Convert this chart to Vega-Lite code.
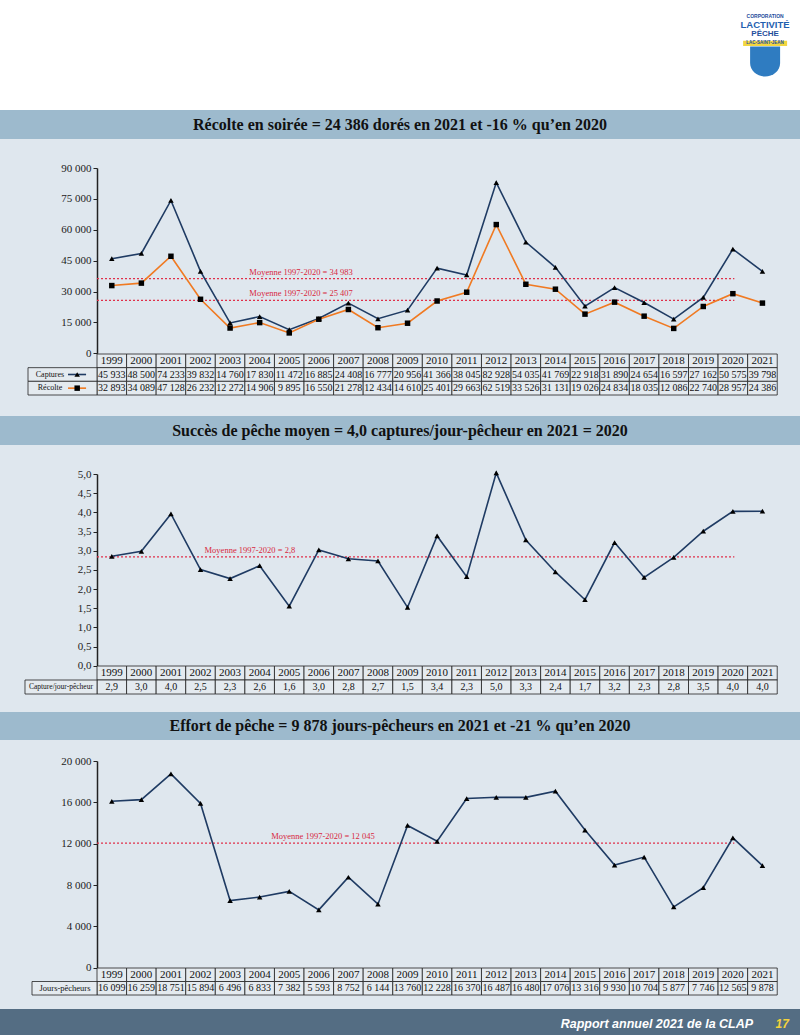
{
"$schema":"https://vega.github.io/schema/vega-lite/v6.json",
"padding":0,
"background":"#dfe7ee",
"spacing":0,
"bounds":"flush",
"datasets":{"d":[
{"year":1999,"captures":45933,"recolte":32893,"cpue":2.853,"effort":16099},
{"year":2000,"captures":48500,"recolte":34089,"cpue":2.983,"effort":16259},
{"year":2001,"captures":74233,"recolte":47128,"cpue":3.959,"effort":18751},
{"year":2002,"captures":39832,"recolte":26232,"cpue":2.506,"effort":15894},
{"year":2003,"captures":14760,"recolte":12272,"cpue":2.272,"effort":6496},
{"year":2004,"captures":17830,"recolte":14906,"cpue":2.609,"effort":6833},
{"year":2005,"captures":11472,"recolte":9895,"cpue":1.554,"effort":7382},
{"year":2006,"captures":16885,"recolte":16550,"cpue":3.019,"effort":5593},
{"year":2007,"captures":24408,"recolte":21278,"cpue":2.789,"effort":8752},
{"year":2008,"captures":16777,"recolte":12434,"cpue":2.731,"effort":6144},
{"year":2009,"captures":20956,"recolte":14610,"cpue":1.523,"effort":13760},
{"year":2010,"captures":41366,"recolte":25401,"cpue":3.383,"effort":12228},
{"year":2011,"captures":38045,"recolte":29663,"cpue":2.324,"effort":16370},
{"year":2012,"captures":82928,"recolte":62519,"cpue":5.030,"effort":16487},
{"year":2013,"captures":54035,"recolte":33526,"cpue":3.279,"effort":16480},
{"year":2014,"captures":41769,"recolte":31131,"cpue":2.446,"effort":17076},
{"year":2015,"captures":22918,"recolte":19026,"cpue":1.721,"effort":13316},
{"year":2016,"captures":31890,"recolte":24834,"cpue":3.212,"effort":9930},
{"year":2017,"captures":24654,"recolte":18035,"cpue":2.303,"effort":10704},
{"year":2018,"captures":16597,"recolte":12086,"cpue":2.824,"effort":5877},
{"year":2019,"captures":27162,"recolte":22740,"cpue":3.507,"effort":7746},
{"year":2020,"captures":50575,"recolte":28957,"cpue":4.025,"effort":12565},
{"year":2021,"captures":39798,"recolte":24386,"cpue":4.029,"effort":9878}
]},
"config":{
 "view":{"stroke":null},
 "concat":{"spacing":0},
 "locale":{"number":{"decimal":",","thousands":" ","grouping":[3],"currency":["","$"]}},
 "axis":{"grid":false,"labelFont":"Liberation Serif","labelFontSize":11,"labelColor":"#222","tickColor":"#222","tickSize":4,"labelPadding":2,"domainColor":"#222","domainWidth":1.5,"labelOverlap":false}
},
"vconcat":[
 {"width":800,"height":110,"view":{"fill":"#ffffff","stroke":null},"data":{"values":[{}]},
  "layer":[
   {"mark":{"type":"text","text":"CORPORATION","font":"Liberation Sans","fontWeight":"bold","fontSize":5,"color":"#1f4e9c"},
    "encoding":{"x":{"datum":2021.09,"type":"quantitative","scale":{"domain":[1995.22,2022.27],"nice":false,"zero":false},"axis":null},
     "y":{"datum":"CORPORATION","type":"nominal","scale":{"type":"point","domain":["CORPORATION","LACTIVITÉ","PÊCHE","LAC-SAINT-JEAN","a","emblème","b","c","d","e","f"],"padding":1,"align":0.86},"axis":null}}},
   {"mark":{"type":"text","text":"LACTIVITÉ","font":"Liberation Sans","fontWeight":"bold","fontSize":9.5,"color":"#1f5fb0"},
    "encoding":{"x":{"datum":2021.09,"type":"quantitative"},"y":{"datum":"LACTIVITÉ","type":"nominal"}}},
   {"mark":{"type":"text","text":"PÊCHE","font":"Liberation Sans","fontWeight":"bold","fontSize":8,"color":"#1f4e9c"},
    "encoding":{"x":{"datum":2021.09,"type":"quantitative"},"y":{"datum":"PÊCHE","type":"nominal"}}},
   {"mark":{"type":"point","shape":"M-1,-0.12H1V0.12H-1Z","size":1936,"filled":true,"color":"#f2d640","opacity":1},
    "encoding":{"x":{"datum":2021.09,"type":"quantitative"},"y":{"datum":"LAC-SAINT-JEAN","type":"nominal"}}},
   {"mark":{"type":"text","text":"LAC-SAINT-JEAN","font":"Liberation Sans","fontWeight":"bold","fontSize":4.5,"color":"#1f4e9c"},
    "encoding":{"x":{"datum":2021.09,"type":"quantitative"},"y":{"datum":"LAC-SAINT-JEAN","type":"nominal"}}},
   {"mark":{"type":"point","shape":"M-1,-1H1V0.1C1,0.65 0.5,1 0,1C-0.5,1 -1,0.65 -1,0.1Z","size":900,"filled":true,"color":"#2f7cc1","opacity":1},
    "encoding":{"x":{"datum":2021.09,"type":"quantitative"},"y":{"datum":"emblème","type":"nominal"}}}
  ]},
 {"width":800,"height":29,"view":{"fill":"#9dbacd","stroke":null},"data":{"values":[{"t":"Récolte en soirée = 24 386 dorés en 2021 et -16 % qu’en 2020"}]},
  "mark":{"type":"text","font":"Liberation Serif","fontWeight":"bold","fontSize":16,"color":"#111"},"encoding":{"text":{"field":"t"}}},
 {"width":800,"height":28.7,"data":{"values":[{}]},"mark":{"type":"text","text":""},"encoding":{}},
 {"width":800,"height":185.3,"data":{"name":"d"},
  "layer":[
   {"data":{"values":[{"mean":36300,"label":"Moyenne 1997-2020 = 34 983"},{"mean":25750,"label":"Moyenne 1997-2020 = 25 407"}]},
    "mark":{"type":"rule","color":"#e0304a","strokeDash":[2,2],"strokeWidth":1.2},
    "encoding":{"x":{"datum":1998.5,"type":"quantitative","scale":{"domain":[1995.22,2022.27],"nice":false,"zero":false},"axis":null},"x2":{"datum":2020.05},
     "y":{"field":"mean","type":"quantitative","title":null,"scale":{"domain":[0,90000],"nice":false,"zero":true},"axis":{"offset":-97,"values":[0,15000,30000,45000,60000,75000,90000],"format":",d"}}}},
   {"data":{"values":[{"mean":36300,"label":"Moyenne 1997-2020 = 34 983"},{"mean":25750,"label":"Moyenne 1997-2020 = 25 407"}]},
    "mark":{"type":"text","font":"Liberation Serif","fontSize":8.5,"color":"#d8283e","baseline":"bottom","dy":-2},
    "encoding":{"x":{"datum":2005.4,"type":"quantitative"},"y":{"field":"mean","type":"quantitative","title":null,"axis":{"offset":-97,"values":[0,15000,30000,45000,60000,75000,90000],"format":",d"}},"text":{"field":"label"}}},
   {"mark":{"type":"line","color":"#1f3b63","strokeWidth":1.6},
    "encoding":{"x":{"field":"year","type":"quantitative"},"y":{"field":"captures","type":"quantitative","title":null,"axis":{"offset":-97,"values":[0,15000,30000,45000,60000,75000,90000],"format":",d"}}}},
   {"mark":{"type":"line","color":"#f07a22","strokeWidth":1.6},
    "encoding":{"x":{"field":"year","type":"quantitative"},"y":{"field":"recolte","type":"quantitative","title":null,"axis":{"offset":-97,"values":[0,15000,30000,45000,60000,75000,90000],"format":",d"}}}},
   {"mark":{"type":"point","shape":"triangle-up","filled":true,"color":"#000","size":30,"opacity":1},
    "encoding":{"x":{"field":"year","type":"quantitative"},"y":{"field":"captures","type":"quantitative","title":null,"axis":{"offset":-97,"values":[0,15000,30000,45000,60000,75000,90000],"format":",d"}}}},
   {"mark":{"type":"point","shape":"square","filled":true,"color":"#000","size":30,"opacity":1},
    "encoding":{"x":{"field":"year","type":"quantitative"},"y":{"field":"recolte","type":"quantitative","title":null,"axis":{"offset":-97,"values":[0,15000,30000,45000,60000,75000,90000],"format":",d"}}}}
  ]},
 {"width":800,"height":41,
  "layer":[
   {"data":{"name":"d"},"transform":[{"fold":["year","captures","recolte"],"as":["key","value"]},{"calculate":"datum.year-0.5","as":"x0"},{"calculate":"datum.year+0.5","as":"x1"}],
    "mark":{"type":"rect","fill":"#e4eaef","stroke":"#222","strokeWidth":0.8},
    "encoding":{"x":{"field":"x0","type":"quantitative","scale":{"domain":[1995.22,2022.27],"nice":false,"zero":false},"axis":null},"x2":{"field":"x1"},
     "y":{"field":"key","type":"nominal","scale":{"domain":["year","captures","recolte"],"paddingInner":0,"paddingOuter":0},"axis":null}}},
   {"data":{"values":[{"key":"captures","label":"Captures"},{"key":"recolte","label":"Récolte"}]},
    "mark":{"type":"rect","fill":"#e4eaef","stroke":"#222","strokeWidth":0.8},
    "encoding":{"x":{"datum":1996.167,"type":"quantitative"},"x2":{"datum":1998.5},"y":{"field":"key","type":"nominal"}}},
   {"data":{"values":[{"key":"captures","label":"Captures"},{"key":"recolte","label":"Récolte"}]},
    "mark":{"type":"text","font":"Liberation Serif","fontSize":8,"color":"#111"},
    "encoding":{"x":{"datum":1996.91,"type":"quantitative"},"y":{"field":"key","type":"nominal"},"text":{"field":"label"}}},
   {"data":{"values":[{"key":"captures","label":"Captures"},{"key":"recolte","label":"Récolte"}]},
    "mark":{"type":"rule","strokeWidth":1.6},
    "encoding":{"x":{"datum":1997.52,"type":"quantitative"},"x2":{"datum":1998.13},"y":{"field":"key","type":"nominal"},
     "color":{"field":"key","type":"nominal","scale":{"domain":["captures","recolte"],"range":["#1f3b63","#f07a22"]},"legend":null}}},
   {"data":{"values":[{"key":"captures","label":"Captures"},{"key":"recolte","label":"Récolte"}]},
    "mark":{"type":"point","filled":true,"color":"#000","size":30,"opacity":1},
    "encoding":{"x":{"datum":1997.83,"type":"quantitative"},"y":{"field":"key","type":"nominal"},
     "shape":{"field":"key","type":"nominal","scale":{"domain":["captures","recolte"],"range":["triangle-up","square"]},"legend":null}}},
   {"data":{"name":"d"},"mark":{"type":"text","font":"Liberation Serif","fontSize":11,"color":"#111"},
    "encoding":{"x":{"field":"year","type":"quantitative"},"y":{"datum":"year","type":"nominal"},"text":{"field":"year","type":"quantitative","format":"d"}}},
   {"data":{"name":"d"},"mark":{"type":"text","font":"Liberation Serif","fontSize":10,"color":"#111"},
    "encoding":{"x":{"field":"year","type":"quantitative"},"y":{"datum":"captures","type":"nominal"},"text":{"field":"captures","type":"quantitative","format":",d"}}},
   {"data":{"name":"d"},"mark":{"type":"text","font":"Liberation Serif","fontSize":10,"color":"#111"},
    "encoding":{"x":{"field":"year","type":"quantitative"},"y":{"datum":"recolte","type":"nominal"},"text":{"field":"recolte","type":"quantitative","format":",d"}}}
  ]},
 {"width":800,"height":21,"data":{"values":[{}]},"mark":{"type":"text","text":""},"encoding":{}},
 {"width":800,"height":29,"view":{"fill":"#9dbacd","stroke":null},"data":{"values":[{"t":"Succès de pêche moyen = 4,0 captures/jour-pêcheur en 2021 = 2020"}]},
  "mark":{"type":"text","font":"Liberation Serif","fontWeight":"bold","fontSize":16,"color":"#111"},"encoding":{"text":{"field":"t"}}},
 {"width":800,"height":28.3,"data":{"values":[{}]},"mark":{"type":"text","text":""},"encoding":{}},
 {"width":800,"height":191.7,"data":{"name":"d"},
  "layer":[
   {"data":{"values":[{"mean":2.84,"label":"Moyenne 1997-2020 = 2,8"}]},
    "mark":{"type":"rule","color":"#e0304a","strokeDash":[2,2],"strokeWidth":1.2},
    "encoding":{"x":{"datum":1998.5,"type":"quantitative","scale":{"domain":[1995.22,2022.27],"nice":false,"zero":false},"axis":null},"x2":{"datum":2020.05},
     "y":{"field":"mean","type":"quantitative","title":null,"scale":{"domain":[0,5],"nice":false,"zero":true},"axis":{"offset":-97,"values":[0,0.5,1,1.5,2,2.5,3,3.5,4,4.5,5],"format":".1f"}}}},
   {"data":{"values":[{"mean":2.84,"label":"Moyenne 1997-2020 = 2,8"}]},
    "mark":{"type":"text","font":"Liberation Serif","fontSize":8.5,"color":"#d8283e","baseline":"bottom","dy":-2},
    "encoding":{"x":{"datum":2003.67,"type":"quantitative"},"y":{"field":"mean","type":"quantitative","title":null,"axis":{"offset":-97,"values":[0,0.5,1,1.5,2,2.5,3,3.5,4,4.5,5],"format":".1f"}},"text":{"field":"label"}}},
   {"mark":{"type":"line","color":"#1f3b63","strokeWidth":1.6},
    "encoding":{"x":{"field":"year","type":"quantitative"},"y":{"field":"cpue","type":"quantitative","title":null,"axis":{"offset":-97,"values":[0,0.5,1,1.5,2,2.5,3,3.5,4,4.5,5],"format":".1f"}}}},
   {"mark":{"type":"point","shape":"triangle-up","filled":true,"color":"#000","size":30,"opacity":1},
    "encoding":{"x":{"field":"year","type":"quantitative"},"y":{"field":"cpue","type":"quantitative","title":null,"axis":{"offset":-97,"values":[0,0.5,1,1.5,2,2.5,3,3.5,4,4.5,5],"format":".1f"}}}}
  ]},
 {"width":800,"height":28,
  "layer":[
   {"data":{"name":"d"},"transform":[{"fold":["year","cpue"],"as":["key","value"]},{"calculate":"datum.year-0.5","as":"x0"},{"calculate":"datum.year+0.5","as":"x1"}],
    "mark":{"type":"rect","fill":"#e4eaef","stroke":"#222","strokeWidth":0.8},
    "encoding":{"x":{"field":"x0","type":"quantitative","scale":{"domain":[1995.22,2022.27],"nice":false,"zero":false},"axis":null},"x2":{"field":"x1"},
     "y":{"field":"key","type":"nominal","scale":{"domain":["year","cpue"],"paddingInner":0,"paddingOuter":0},"axis":null}}},
   {"data":{"values":[{"key":"cpue","label":"Capture/jour-pêcheur"}]},
    "mark":{"type":"rect","fill":"#e4eaef","stroke":"#222","strokeWidth":0.8},
    "encoding":{"x":{"datum":1996.065,"type":"quantitative"},"x2":{"datum":1998.5},"y":{"field":"key","type":"nominal"}}},
   {"data":{"values":[{"key":"cpue","label":"Capture/jour-pêcheur"}]},
    "mark":{"type":"text","font":"Liberation Serif","fontSize":7.5,"color":"#111"},
    "encoding":{"x":{"datum":1997.28,"type":"quantitative"},"y":{"field":"key","type":"nominal"},"text":{"field":"label"}}},
   {"data":{"name":"d"},"mark":{"type":"text","font":"Liberation Serif","fontSize":11,"color":"#111"},
    "encoding":{"x":{"field":"year","type":"quantitative"},"y":{"datum":"year","type":"nominal"},"text":{"field":"year","type":"quantitative","format":"d"}}},
   {"data":{"name":"d"},"mark":{"type":"text","font":"Liberation Serif","fontSize":10,"color":"#111"},
    "encoding":{"x":{"field":"year","type":"quantitative"},"y":{"datum":"cpue","type":"nominal"},"text":{"field":"cpue","type":"quantitative","format":".1f"}}}
  ]},
 {"width":800,"height":18,"data":{"values":[{}]},"mark":{"type":"text","text":""},"encoding":{}},
 {"width":800,"height":28,"view":{"fill":"#9dbacd","stroke":null},"data":{"values":[{"t":"Effort de pêche = 9 878 jours-pêcheurs en 2021 et -21 % qu’en 2020"}]},
  "mark":{"type":"text","font":"Liberation Serif","fontWeight":"bold","fontSize":16,"color":"#111"},"encoding":{"text":{"field":"t"}}},
 {"width":800,"height":20.3,"data":{"values":[{}]},"mark":{"type":"text","text":""},"encoding":{}},
 {"width":800,"height":206.7,"data":{"name":"d"},
  "layer":[
   {"data":{"values":[{"mean":12045,"label":"Moyenne  1997-2020 = 12 045"}]},
    "mark":{"type":"rule","color":"#e0304a","strokeDash":[2,2],"strokeWidth":1.2},
    "encoding":{"x":{"datum":1998.5,"type":"quantitative","scale":{"domain":[1995.22,2022.27],"nice":false,"zero":false},"axis":null},"x2":{"datum":2020.05},
     "y":{"field":"mean","type":"quantitative","title":null,"scale":{"domain":[0,20000],"nice":false,"zero":true},"axis":{"offset":-97,"values":[0,4000,8000,12000,16000,20000],"format":",d"}}}},
   {"data":{"values":[{"mean":12045,"label":"Moyenne  1997-2020 = 12 045"}]},
    "mark":{"type":"text","font":"Liberation Serif","fontSize":8.5,"color":"#d8283e","baseline":"bottom","dy":-2},
    "encoding":{"x":{"datum":2006.14,"type":"quantitative"},"y":{"field":"mean","type":"quantitative","title":null,"axis":{"offset":-97,"values":[0,4000,8000,12000,16000,20000],"format":",d"}},"text":{"field":"label"}}},
   {"mark":{"type":"line","color":"#1f3b63","strokeWidth":1.6},
    "encoding":{"x":{"field":"year","type":"quantitative"},"y":{"field":"effort","type":"quantitative","title":null,"axis":{"offset":-97,"values":[0,4000,8000,12000,16000,20000],"format":",d"}}}},
   {"mark":{"type":"point","shape":"triangle-up","filled":true,"color":"#000","size":30,"opacity":1},
    "encoding":{"x":{"field":"year","type":"quantitative"},"y":{"field":"effort","type":"quantitative","title":null,"axis":{"offset":-97,"values":[0,4000,8000,12000,16000,20000],"format":",d"}}}}
  ]},
 {"width":800,"height":27,
  "layer":[
   {"data":{"name":"d"},"transform":[{"fold":["year","effort"],"as":["key","value"]},{"calculate":"datum.year-0.5","as":"x0"},{"calculate":"datum.year+0.5","as":"x1"}],
    "mark":{"type":"rect","fill":"#e4eaef","stroke":"#222","strokeWidth":0.8},
    "encoding":{"x":{"field":"x0","type":"quantitative","scale":{"domain":[1995.22,2022.27],"nice":false,"zero":false},"axis":null},"x2":{"field":"x1"},
     "y":{"field":"key","type":"nominal","scale":{"domain":["year","effort"],"paddingInner":0,"paddingOuter":0},"axis":null}}},
   {"data":{"values":[{"key":"effort","label":"Jours-pêcheurs"}]},
    "mark":{"type":"rect","fill":"#e4eaef","stroke":"#222","strokeWidth":0.8},
    "encoding":{"x":{"datum":1996.302,"type":"quantitative"},"x2":{"datum":1998.5},"y":{"field":"key","type":"nominal"}}},
   {"data":{"values":[{"key":"effort","label":"Jours-pêcheurs"}]},
    "mark":{"type":"text","font":"Liberation Serif","fontSize":8.5,"color":"#111"},
    "encoding":{"x":{"datum":1997.418,"type":"quantitative"},"y":{"field":"key","type":"nominal"},"text":{"field":"label"}}},
   {"data":{"name":"d"},"mark":{"type":"text","font":"Liberation Serif","fontSize":11,"color":"#111"},
    "encoding":{"x":{"field":"year","type":"quantitative"},"y":{"datum":"year","type":"nominal"},"text":{"field":"year","type":"quantitative","format":"d"}}},
   {"data":{"name":"d"},"mark":{"type":"text","font":"Liberation Serif","fontSize":10,"color":"#111"},
    "encoding":{"x":{"field":"year","type":"quantitative"},"y":{"datum":"effort","type":"nominal"},"text":{"field":"effort","type":"quantitative","format":",d"}}}
  ]},
 {"width":800,"height":14,"data":{"values":[{}]},"mark":{"type":"text","text":""},"encoding":{}},
 {"width":800,"height":29,"view":{"fill":"#546d83","stroke":null},"data":{"values":[{}]},
  "layer":[
   {"mark":{"type":"text","text":"Rapport annuel 2021 de la CLAP","align":"right","font":"Liberation Sans","fontStyle":"italic","fontWeight":"bold","fontSize":12.5,"color":"#ffffff"},
    "encoding":{"x":{"datum":2020.685,"type":"quantitative","scale":{"domain":[1995.22,2022.27],"nice":false,"zero":false},"axis":null}}},
   {"mark":{"type":"text","text":"17","font":"Liberation Sans","fontStyle":"italic","fontWeight":"bold","fontSize":12,"color":"#f3d23c"},
    "encoding":{"x":{"datum":2021.67,"type":"quantitative"}}}
  ]}
]
}
